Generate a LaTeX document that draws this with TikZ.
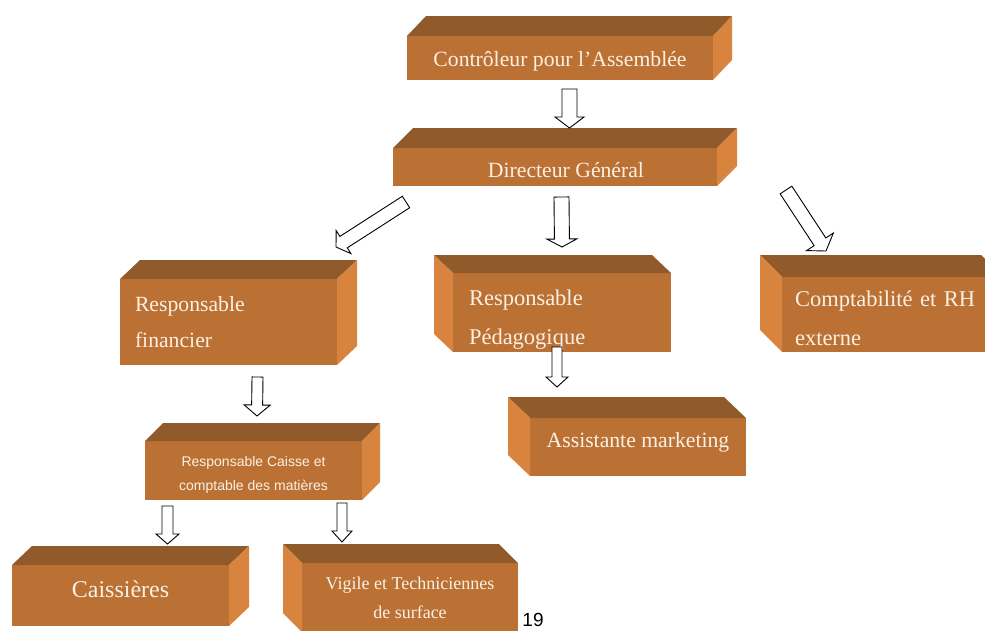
\documentclass[tikz,border=0pt]{standalone}
\usepackage{fontspec}
\setmainfont{Liberation Serif}
\newfontfamily\sansf{Liberation Sans}
\usetikzlibrary{calc}
\definecolor{frontc}{RGB}{188,113,52}
\definecolor{topc}{RGB}{145,90,42}
\definecolor{sidec}{RGB}{217,132,62}
\definecolor{txtc}{RGB}{250,240,228}
\tikzset{
  box/.style={fill=frontc, text=txtc, inner sep=0pt, outer sep=0pt},
  blk/.style={draw=black, fill=white, line width=0.9pt, line join=miter},
}
% cuboid faces: side on the right
\newcommand\cubR[3]{%
  \fill[topc] (#1.north west) -- ++(#2,#3) -- ([shift={(#2,#3)}]#1.north east) -- (#1.north east) -- cycle;
  \fill[sidec] (#1.north east) -- ++(#2,#3) -- ([shift={(#2,#3)}]#1.south east) -- (#1.south east) -- cycle;}
% cuboid faces: side on the left
\newcommand\cubL[3]{%
  \fill[topc] (#1.north west) -- ++(#2,#3) -- ([shift={(#2,#3)}]#1.north east) -- (#1.north east) -- cycle;
  \fill[sidec] (#1.north west) -- ++(#2,#3) -- ([shift={(#2,#3)}]#1.south west) -- (#1.south west) -- cycle;}
% block arrow: start, end, shaft half width, head half width, head length
\newcommand\barr[5]{%
  \coordinate (hb) at ($(#2)!#5!(#1)$);
  \draw[blk] ($(#1)!#3!90:(#2)$) -- ($(hb)!#3!90:(#2)$) -- ($(hb)!#4!90:(#2)$) -- (#2)
    -- ($(hb)!#4!-90:(#2)$) -- ($(hb)!#3!-90:(#2)$) -- ($(#1)!#3!-90:(#2)$) -- cycle;}
\begin{document}
\begin{tikzpicture}[x=1pt,y=-1pt]
\useasboundingbox (0,0) rectangle (985,630);
\fill[white] (0,0) rectangle (985,630);

% boxes
\node[box, minimum width=306pt, minimum height=44pt, text height=21pt, text depth=5pt, font=\fontsize{21.7}{26}\selectfont] (ctrl) at (560,58) {Contrôleur pour l’Assemblée};
\cubR{ctrl}{19}{-20}
\node[box, minimum width=324pt, minimum height=38pt, text height=20pt, text depth=0pt, font=\fontsize{21.7}{26}\selectfont] (dg) at (555,167) {\hspace{22pt}Directeur Général};
\cubR{dg}{20}{-20}
\node[box, minimum width=217pt, minimum height=86pt, text width=187pt, inner xsep=15pt, align=left, font=\fontsize{21.7}{36}\selectfont] (rf) at (228.5,322) {Responsable\\financier};
\cubR{rf}{20}{-19}
\node[box, minimum width=218pt, minimum height=79pt, text width=186pt, inner xsep=16pt, align=left, font=\fontsize{22.5}{39}\selectfont] (rp) at (562,312.5) {\rule{0pt}{30pt}Responsable\\Pédagogique};
\cubL{rp}{-19}{-18}
\node[box, minimum width=221pt, minimum height=75pt, text width=195pt, inner xsep=13pt, align=left, font=\fontsize{22.5}{39}\selectfont] (crh) at (892.5,314.5) {\rule{0pt}{24pt}\makebox[190pt][s]{Comptabilité et RH}\\externe};
\cubL{crh}{-22}{-22}
\node[box, minimum width=216pt, minimum height=58pt, text depth=14pt, font=\fontsize{21.7}{26}\selectfont] (am) at (638,447) {Assistante marketing};
\cubL{am}{-22}{-21}
\node[box, minimum width=217pt, minimum height=59pt, align=center, font=\sansf\fontsize{14}{24}\selectfont] (rc) at (253.5,470.5) {\rule{0pt}{18pt}Responsable Caisse et\\comptable des matières};
\cubR{rc}{18}{-18}
\node[box, minimum width=217pt, minimum height=61pt, text depth=12pt, font=\fontsize{24}{28}\selectfont] (cai) at (120.5,595.5) {Caissières};
\cubR{cai}{20}{-19}
\node[box, minimum width=216pt, minimum height=69pt, align=center, font=\fontsize{18}{29}\selectfont] (vig) at (410,597.5) {Vigile et Techniciennes\\de surface};
\cubL{vig}{-19}{-19}

\node[font=\sansf\fontsize{19}{22}\selectfont, anchor=base, inner sep=0pt] (pg) at (533,626) {19};

% arrow end points
\coordinate (a1s) at ($(ctrl.south)+(9.5,9)$);
\coordinate (a1e) at ($(dg.north)+(14.5,-20)$);
\coordinate (a2s) at ($(dg.south)+(6.5,11)$);
\coordinate (a2e) at ($(rp.north)+(0,-26)$);
\coordinate (a3s) at ($(dg.south west)+(13,16)$);
\coordinate (a3e) at ($(rf.north east)+(-1,-32)$);
\coordinate (a4s) at ($(dg.south east)+(69,4)$);
\coordinate (a4e) at ($(crh.north west)+(44,-26)$);
\coordinate (a5s) at ($(rf.south)+(29,12)$);
\coordinate (a5e) at ($(rc.north)+(3.5,-25)$);
\coordinate (a6s) at ($(rp.south)+(-5,-5)$);
\coordinate (a6e) at ($(am.north west)+(27,-31)$);
\coordinate (a7s) at ($(rc.south west)+(22.5,6)$);
\coordinate (a7e) at ($(cai.north)+(47,-21)$);
\coordinate (a8s) at ($(rc.south east)+(-20,3)$);
\coordinate (a8e) at ($(vig.north west)+(40,-21)$);

\barr{a1s}{a1e}{7.5pt}{14.5pt}{11pt}
\barr{a2s}{a2e}{7.5pt}{15pt}{8pt}
\barr{a3s}{a3e}{6.8pt}{13.7pt}{9pt}
\barr{a4s}{a4e}{7pt}{16pt}{11pt}
\barr{a5s}{a5e}{5.5pt}{13pt}{11pt}
\barr{a6s}{a6e}{5pt}{11pt}{10pt}
\barr{a7s}{a7e}{5.5pt}{11.5pt}{10pt}
\barr{a8s}{a8e}{5pt}{10pt}{11pt}
\end{tikzpicture}
\end{document}
